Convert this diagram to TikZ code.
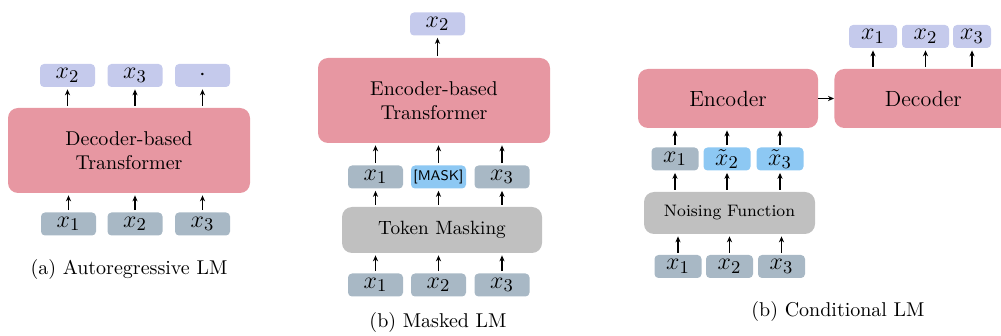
\documentclass[tikz,border=0pt]{standalone}
\usetikzlibrary{arrows.meta}

\definecolor{blockpink}{HTML}{E797A2}
\definecolor{outlav}{HTML}{C5CAEC}
\definecolor{tokgray}{HTML}{A8B8C5}
\definecolor{maskblue}{HTML}{8DC8F3}
\definecolor{procgray}{HTML}{C0C0C0}

\tikzset{
  tok/.style={fill=tokgray, rounded corners=2pt, inner sep=0pt,
    minimum width=27.5pt, minimum height=11.5pt, font=\fontsize{13}{15}\selectfont},
  smalltok/.style={tok, minimum width=23.5pt},
  outtok/.style={tok, fill=outlav},
  masktok/.style={tok, fill=maskblue},
  bigblock/.style={fill=blockpink, rounded corners=5pt, inner sep=0pt,
    align=center, font=\normalsize},
  procblock/.style={fill=procgray, rounded corners=5pt, inner sep=0pt},
  arr/.style={-{Stealth[length=3pt,width=2.6pt]}, line width=0.6pt,
    shorten <=1pt, shorten >=1pt},
  caption/.style={font=\normalsize}
}

\begin{document}
\begin{tikzpicture}[x=0.5pt,y=-0.5pt]
\useasboundingbox (0,0) rectangle (1001,336);
\clip (0,0) rectangle (1001,336);

% (a) autoregressive
\node[bigblock, minimum width=121pt, minimum height=42.5pt] (adec) at (129,150.5) {Decoder-based\\Transformer};
\node[outtok] (ao2) at (67.5,75.5) {$x_2$};
\node[outtok] (ao3) at (135,75.5) {$x_3$};
\node[outtok] (ao4) at (202.5,75.5) {$\cdot$};
\node[tok] (ai1) at (68.5,224) {$x_1$};
\node[tok] (ai2) at (135,224) {$x_2$};
\node[tok] (ai3) at (202.5,224) {$x_3$};
\foreach \n in {1,2,3} \draw[arr] (ai\n) -- (ai\n |- adec.south);
\foreach \n in {2,3,4} \draw[arr] (ao\n |- adec.north) -- (ao\n);
\node[caption] (acap) at (129,270) {(a) Autoregressive LM};

% (b) masked
\node[bigblock, minimum width=116pt, minimum height=42.5pt] (benc) at (434,100.5) {Encoder-based\\Transformer};
\node[outtok] (bo2) at (437.5,24) {$x_2$};
\node[tok] (bm1) at (375.5,177) {$x_1$};
\node[masktok, font=\sffamily\scriptsize] (bm2) at (438.5,177) {[MASK]};
\node[tok] (bm3) at (502,177) {$x_3$};
\node[procblock, minimum width=100pt, minimum height=23pt, font=\fontsize{9.6}{11}\selectfont] (bmask) at (442,230) {Token Masking};
\node[tok] (bi1) at (375.5,285) {$x_1$};
\node[tok] (bi2) at (438.5,285) {$x_2$};
\node[tok] (bi3) at (502,285) {$x_3$};
\draw[arr] (bo2 |- benc.north) -- (bo2);
\foreach \n in {1,2,3} {
  \draw[arr] (bm\n) -- (bm\n |- benc.south);
  \draw[arr] (bm\n |- bmask.north) -- (bm\n);
  \draw[arr] (bi\n) -- (bi\n |- bmask.south);
}
\node[caption] (bcap) at (438,323) {(b) Masked LM};

% (c) conditional
\node[bigblock, minimum width=90pt, minimum height=29.5pt, font=\fontsize{11}{13}\selectfont] (cenc) at (728,98.5) {Encoder};
\node[bigblock, minimum width=89pt, minimum height=29.5pt, anchor=west, font=\fontsize{11}{13}\selectfont] (cdec) at (834,98.5) {Decoder};
\draw[arr, shorten <=0pt, shorten >=0pt] (cenc) -- (cdec);
\node[outtok, minimum width=24pt] (co1) at (873,36.5) {$x_1$};
\node[outtok, minimum width=23.5pt] (co2) at (925.5,36.5) {$x_2$};
\node[outtok, minimum width=19pt] (co3) at (972,36.5) {$x_3$};
\foreach \n in {1,2,3} \draw[arr] (co\n |- cdec.north) -- (co\n);
\node[smalltok] (cm1) at (675,159) {$x_1$};
\node[smalltok, fill=maskblue] (cm2) at (727,159) {$\tilde{x}_2$};
\node[smalltok, fill=maskblue] (cm3) at (780,159) {$\tilde{x}_3$};
\node[procblock, minimum width=85.5pt, minimum height=21pt, font=\fontsize{8.3}{10}\selectfont] (cnoise) at (729.5,213) {Noising Function};
\node[smalltok] (ci1) at (678,266.5) {$x_1$};
\node[smalltok] (ci2) at (729.5,266.5) {$x_2$};
\node[smalltok] (ci3) at (781.5,266.5) {$x_3$};
\foreach \n in {1,2,3} {
  \draw[arr] (cm\n) -- (cm\n |- cenc.south);
  \draw[arr] (cm\n |- cnoise.north) -- (cm\n);
  \draw[arr] (ci\n) -- (ci\n |- cnoise.south);
}
\node[caption] (ccap) at (838,311) {(b) Conditional LM};
\end{tikzpicture}
\end{document}
